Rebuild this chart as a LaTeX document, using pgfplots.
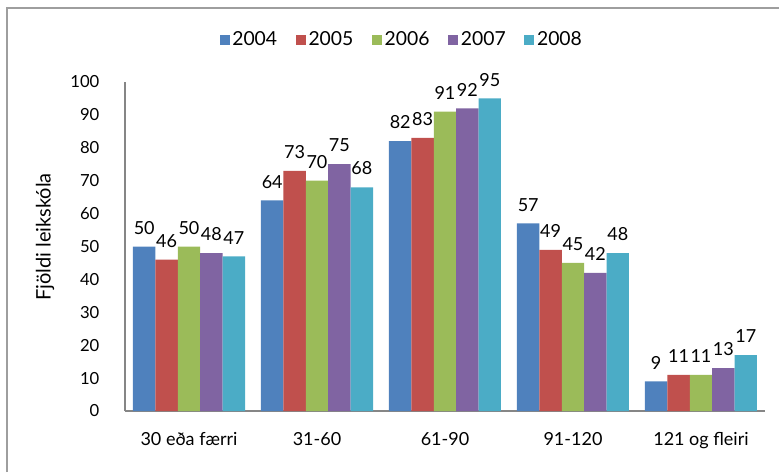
\documentclass[border=0pt]{standalone}
\usepackage{pgfplots}
\pgfplotsset{compat=1.18}
\usepackage{fontspec}
\setmainfont{Lato}

\definecolor{c04}{HTML}{4F81BD}
\definecolor{c05}{HTML}{C0504D}
\definecolor{c06}{HTML}{9BBB59}
\definecolor{c07}{HTML}{8064A2}
\definecolor{c08}{HTML}{4BACC6}
\definecolor{axgray}{HTML}{868686}

\begin{document}
\fontsize{12}{14}\selectfont
\begin{tikzpicture}
\useasboundingbox (0,0) rectangle (584.25pt,354pt);
% chart frame (only top and left edges fall inside the picture)
\draw[axgray!80, line width=1.4pt] (5.25pt,0) -- (5.25pt,348pt) -- (584.25pt,348pt);
\begin{axis}[
    at={(93.75pt,45.75pt)}, anchor=south west,
    scale only axis,
    width=480pt, height=246.75pt,
    ybar=0pt, bar width=16.8pt,
    xmin=-0.5, xmax=4.5, ymin=0, ymax=100,
    xtick={0,1,2,3,4},
    xticklabels={30 eða færri, 31-60, 61-90, 91-120, 121 og fleiri},
    ytick={0,10,...,100},
    major tick length=0pt,
    axis lines*=left,
    axis line style={axgray, line width=1.5pt, -},
    /pgf/number format/assume math mode=true,
    yticklabel style={xshift=-15pt, font=\fontsize{12.5}{14}\selectfont},
    xticklabel style={yshift=-12pt, font=\fontsize{13.5}{15}\selectfont},
    ylabel={Fjöldi leikskóla},
    y label style={at={(axis description cs:-0.125,0.529)}, anchor=center,
        font=\fontsize{15}{17}\selectfont},
    nodes near coords,
    nodes near coords style={anchor=south, yshift=5pt, font=\fontsize{13.5}{15}\selectfont},
    clip=false,
    legend columns=5,
    legend style={draw=none, at={(axis description cs:0.433,1.128)}, anchor=center,
        font=\fontsize{14.5}{16}\selectfont,
        /tikz/every even column/.append style={column sep=12pt}},
    legend image code/.code={\fill[#1] (0pt,-3.8pt) rectangle (7.5pt,3.7pt);},
]
\addplot[fill=c04, draw=none] coordinates {(0,50) (1,64) (2,82) (3,57) (4,9)};
\addlegendentry{2004}
\addplot[fill=c05, draw=none] coordinates {(0,46) (1,73) (2,83) (3,49) (4,11)};
\addlegendentry{2005}
\addplot[fill=c06, draw=none] coordinates {(0,50) (1,70) (2,91) (3,45) (4,11)};
\addlegendentry{2006}
\addplot[fill=c07, draw=none] coordinates {(0,48) (1,75) (2,92) (3,42) (4,13)};
\addlegendentry{2007}
\addplot[fill=c08, draw=none] coordinates {(0,47) (1,68) (2,95) (3,48) (4,17)};
\addlegendentry{2008}
\end{axis}
\end{tikzpicture}
\end{document}
